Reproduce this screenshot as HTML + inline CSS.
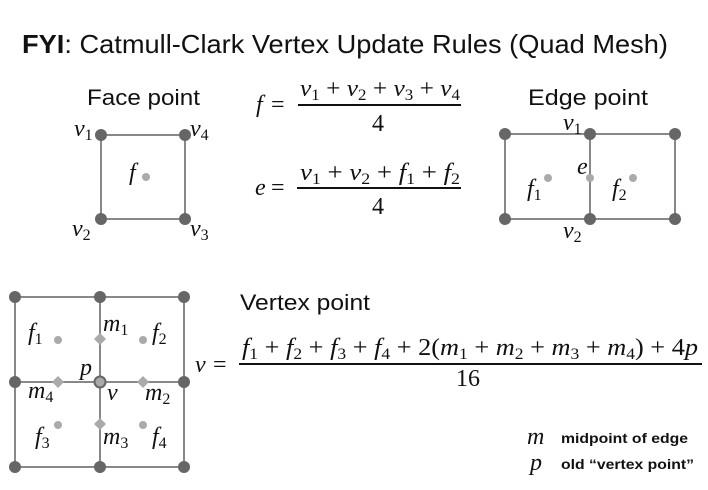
<!DOCTYPE html>
<html><head><meta charset="utf-8"><style>
body{margin:0;background:#fff}
svg{display:block}
.t{font-family:"Liberation Serif",serif;font-style:italic;font-size:24px;fill:#111}
.n{font-family:"Liberation Serif",serif;font-size:24px;fill:#111}
.s{font-family:"Liberation Sans",sans-serif;fill:#111}
</style></head><body>
<svg width="708" height="490" viewBox="0 0 708 490">
<text x="22" y="53" class="s" font-size="26" textLength="646" lengthAdjust="spacingAndGlyphs"><tspan font-weight="bold">FYI</tspan>: Catmull-Clark Vertex Update Rules (Quad Mesh)</text>
<!-- face point -->
<text x="87" y="105" class="s" font-size="22" textLength="113" lengthAdjust="spacingAndGlyphs">Face point</text>
<rect x="101" y="135" width="84" height="84" fill="none" stroke="#888" stroke-width="2"/>
<g fill="#666"><circle cx="101" cy="135" r="6"/><circle cx="185" cy="135" r="6"/><circle cx="101" cy="219" r="6"/><circle cx="185" cy="219" r="6"/></g>
<circle cx="146" cy="177" r="4" fill="#aaa"/>
<text x="74" y="136" class="t">v<tspan font-size="16" font-style="normal" dy="4">1</tspan></text>
<text x="190" y="136" class="t">v<tspan font-size="16" font-style="normal" dy="4">4</tspan></text>
<text x="129" y="180" class="t">f</text>
<text x="72" y="236" class="t">v<tspan font-size="16" font-style="normal" dy="4">2</tspan></text>
<text x="190" y="236" class="t">v<tspan font-size="16" font-style="normal" dy="4">3</tspan></text>
<!-- formulas -->
<text x="256" y="112" class="t">f</text><text x="271" y="112" class="n">=</text>
<text x="300" y="96" class="t" textLength="160" lengthAdjust="spacingAndGlyphs">v<tspan font-size="16" font-style="normal" dy="4">1</tspan><tspan dy="-4" font-style="normal"> + </tspan>v<tspan font-size="16" font-style="normal" dy="4">2</tspan><tspan dy="-4" font-style="normal"> + </tspan>v<tspan font-size="16" font-style="normal" dy="4">3</tspan><tspan dy="-4" font-style="normal"> + </tspan>v<tspan font-size="16" font-style="normal" dy="4">4</tspan></text>
<line x1="298" y1="105" x2="461" y2="105" stroke="#111" stroke-width="2"/>
<text x="372" y="131" class="n">4</text>
<text x="255" y="195" class="t">e</text><text x="271" y="195" class="n">=</text>
<text x="300" y="180" class="t" textLength="160" lengthAdjust="spacingAndGlyphs">v<tspan font-size="16" font-style="normal" dy="4">1</tspan><tspan dy="-4" font-style="normal"> + </tspan>v<tspan font-size="16" font-style="normal" dy="4">2</tspan><tspan dy="-4" font-style="normal"> + </tspan>f<tspan font-size="16" font-style="normal" dy="4">1</tspan><tspan dy="-4" font-style="normal"> + </tspan>f<tspan font-size="16" font-style="normal" dy="4">2</tspan></text>
<line x1="297" y1="188" x2="461" y2="188" stroke="#111" stroke-width="2"/>
<text x="372" y="214" class="n">4</text>
<!-- edge point -->
<text x="528" y="105" class="s" font-size="22" textLength="120" lengthAdjust="spacingAndGlyphs">Edge point</text>
<g fill="none" stroke="#888" stroke-width="2"><rect x="505" y="134" width="170" height="85"/><line x1="590" y1="134" x2="590" y2="219"/></g>
<g fill="#666"><circle cx="505" cy="134" r="6"/><circle cx="590" cy="134" r="6"/><circle cx="675" cy="134" r="6"/><circle cx="505" cy="219" r="6"/><circle cx="590" cy="219" r="6"/><circle cx="675" cy="219" r="6"/></g>
<g fill="#aaa"><circle cx="590" cy="178" r="4"/><circle cx="548" cy="178" r="4"/><circle cx="633" cy="178" r="4"/></g>
<text x="563" y="130" class="t">v<tspan font-size="16" font-style="normal" dy="4">1</tspan></text>
<text x="577" y="174" class="t">e</text>
<text x="527" y="196" class="t">f<tspan font-size="16" font-style="normal" dy="4">1</tspan></text>
<text x="612" y="196" class="t">f<tspan font-size="16" font-style="normal" dy="4">2</tspan></text>
<text x="563" y="238" class="t">v<tspan font-size="16" font-style="normal" dy="4">2</tspan></text>
<!-- vertex grid -->
<g fill="none" stroke="#888" stroke-width="2"><rect x="15" y="297" width="169" height="170"/><line x1="100" y1="297" x2="100" y2="467"/><line x1="15" y1="382" x2="184" y2="382"/></g>
<g fill="#666"><circle cx="15" cy="297" r="6"/><circle cx="100" cy="297" r="6"/><circle cx="184" cy="297" r="6"/><circle cx="15" cy="382" r="6"/><circle cx="184" cy="382" r="6"/><circle cx="15" cy="467" r="6"/><circle cx="100" cy="467" r="6"/><circle cx="184" cy="467" r="6"/></g>
<circle cx="100" cy="382" r="5.5" fill="#aaa" stroke="#666" stroke-width="2"/>
<g fill="#aaa"><circle cx="58" cy="340" r="4"/><circle cx="143" cy="340" r="4"/><circle cx="58" cy="425" r="4"/><circle cx="143" cy="425" r="4"/>
<path d="M100 333l6 6-6 6-6-6z"/><path d="M100 418l6 6-6 6-6-6z"/><path d="M58 376l6 6-6 6-6-6z"/><path d="M143 376l6 6-6 6-6-6z"/></g>
<text x="28" y="340" class="t">f<tspan font-size="16" font-style="normal" dy="4">1</tspan></text>
<text x="103" y="331" class="t">m<tspan font-size="16" font-style="normal" dy="4">1</tspan></text>
<text x="152" y="340" class="t">f<tspan font-size="16" font-style="normal" dy="4">2</tspan></text>
<text x="80" y="375" class="t">p</text>
<text x="28" y="398" class="t">m<tspan font-size="16" font-style="normal" dy="4">4</tspan></text>
<text x="107" y="400" class="t">v</text>
<text x="145" y="400" class="t">m<tspan font-size="16" font-style="normal" dy="4">2</tspan></text>
<text x="35" y="444" class="t">f<tspan font-size="16" font-style="normal" dy="4">3</tspan></text>
<text x="103" y="444" class="t">m<tspan font-size="16" font-style="normal" dy="4">3</tspan></text>
<text x="152" y="444" class="t">f<tspan font-size="16" font-style="normal" dy="4">4</tspan></text>
<!-- vertex formula -->
<text x="240" y="310" class="s" font-size="22" textLength="130" lengthAdjust="spacingAndGlyphs">Vertex point</text>
<text x="195" y="372" class="t">v</text><text x="213" y="372" class="n">=</text>
<text x="242" y="355" class="t" textLength="456" lengthAdjust="spacingAndGlyphs">f<tspan font-size="16" font-style="normal" dy="4">1</tspan><tspan dy="-4" font-style="normal"> + </tspan>f<tspan font-size="16" font-style="normal" dy="4">2</tspan><tspan dy="-4" font-style="normal"> + </tspan>f<tspan font-size="16" font-style="normal" dy="4">3</tspan><tspan dy="-4" font-style="normal"> + </tspan>f<tspan font-size="16" font-style="normal" dy="4">4</tspan><tspan dy="-4" font-style="normal"> + 2(</tspan>m<tspan font-size="16" font-style="normal" dy="4">1</tspan><tspan dy="-4" font-style="normal"> + </tspan>m<tspan font-size="16" font-style="normal" dy="4">2</tspan><tspan dy="-4" font-style="normal"> + </tspan>m<tspan font-size="16" font-style="normal" dy="4">3</tspan><tspan dy="-4" font-style="normal"> + </tspan>m<tspan font-size="16" font-style="normal" dy="4">4</tspan><tspan dy="-4" font-style="normal">) + 4</tspan>p</text>
<line x1="239" y1="364" x2="702" y2="364" stroke="#111" stroke-width="2"/>
<text x="456" y="386" class="n">16</text>
<!-- legend -->
<text x="527" y="444" class="t">m</text>
<text x="561" y="443" class="s" font-size="14" font-weight="bold" fill="#333" textLength="127" lengthAdjust="spacingAndGlyphs">midpoint of edge</text>
<text x="530" y="470" class="t">p</text>
<text x="561" y="469" class="s" font-size="14" font-weight="bold" fill="#333" textLength="133" lengthAdjust="spacingAndGlyphs">old “vertex point”</text>
</svg>
</body></html>
